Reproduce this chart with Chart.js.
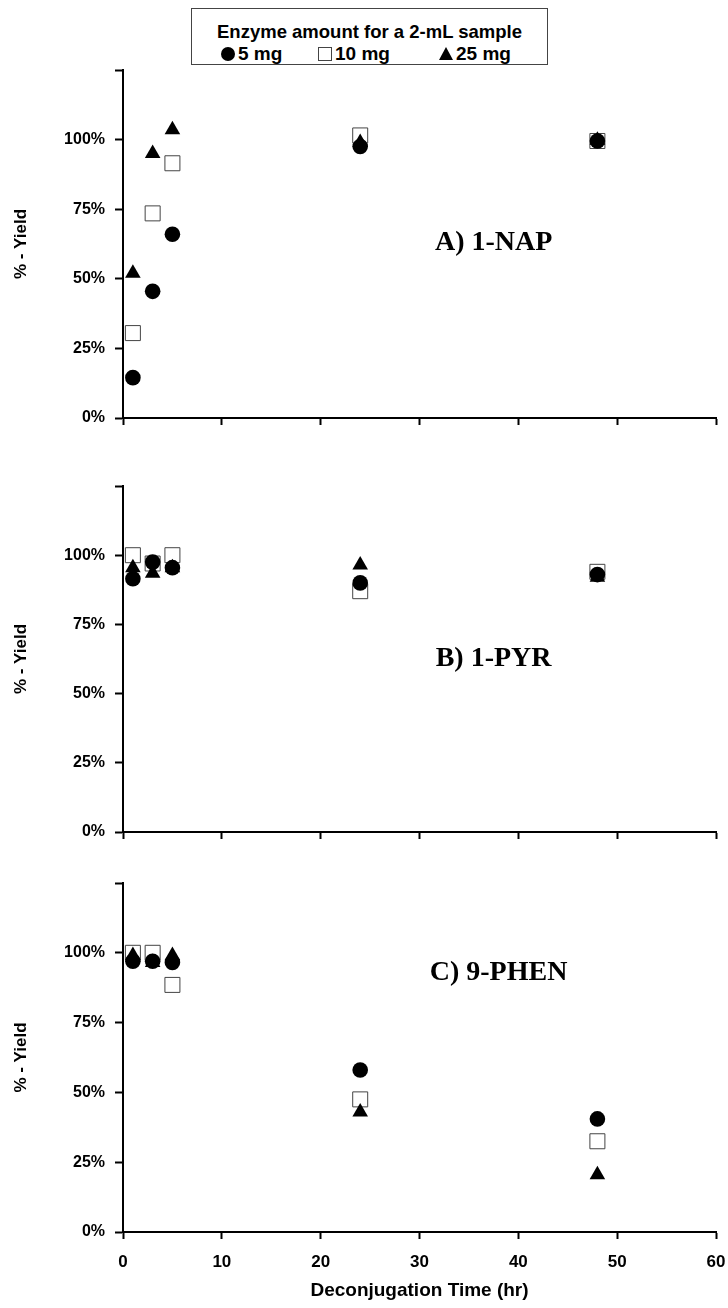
<!DOCTYPE html>
<html>
<head>
<meta charset="utf-8">
<script src="https://cdn.jsdelivr.net/npm/chart.js@4.4.1/dist/chart.umd.min.js"></script>
<style>
  html, body { margin: 0; padding: 0; background: #fff; }
  #wrap { position: relative; width: 728px; height: 1308px; overflow: hidden; }
  #wrap canvas { position: absolute; left: 0; }
  #legend {
    position: absolute; left: 191px; top: 8px; width: 357px; height: 57px;
    box-sizing: border-box; border: 1px solid #444; background: #fff;
    font-family: "Liberation Sans", Arial, sans-serif; font-weight: bold; color: #000;
  }
  #legend .ttl { position: absolute; left: 0; right: 0; top: 12px; text-align: center; font-size: 18.5px; line-height: 21px; }
  #legend .it { position: absolute; top: 34px; font-size: 19px; line-height: 21px; white-space: nowrap; }
  #legend .sym { display: inline-block; vertical-align: middle; margin-right: 3px; position: relative; top: -1px; }
  .dot { width: 14px; height: 14px; border-radius: 50%; background: #000; }
  .box { width: 12px; height: 12px; border: 1px solid #444; background: #fff; }
  .tri { width: 0; height: 0; border-left: 7px solid transparent; border-right: 7px solid transparent; border-bottom: 13px solid #000; }
</style>
</head>
<body>
<div id="wrap">
  <div id="legend">
    <div class="ttl">Enzyme amount for a 2-mL sample</div>
    <div class="it" style="left:29px"><span class="sym dot"></span>5 mg</div>
    <div class="it" style="left:126px"><span class="sym box"></span>10 mg</div>
    <div class="it" style="left:247px"><span class="sym tri"></span>25 mg</div>
  </div>
  <canvas id="cA" width="728" height="440" style="top:0px"></canvas>
  <canvas id="cB" width="728" height="420" style="top:440px"></canvas>
  <canvas id="cC" width="728" height="448" style="top:860px"></canvas>
</div>
<script>
// Sampling times (hr)
const hours = [1, 3, 5, 24, 48];

// % yield, A) 1-NAP
const napMg5  = [14.5, 45.5, 66.0, 97.5, 99.5];
const napMg10 = [30.5, 73.5, 91.5, 101.5, 99.5];
const napMg25 = [52.0, 95.0, 103.5, 99.0, 99.8];

// % yield, B) 1-PYR
const pyrMg5  = [91.5, 97.5, 95.5, 90.0, 93.0];
const pyrMg10 = [100.0, 97.0, 100.0, 87.0, 94.0];
const pyrMg25 = [95.5, 93.5, 95.5, 96.5, 92.0];

// % yield, C) 9-PHEN
const phenMg5  = [97.0, 97.0, 96.5, 58.0, 40.5];
const phenMg10 = [100.0, 100.0, 88.5, 47.5, 32.5];
const phenMg25 = [99.0, 96.5, 99.0, 43.0, 20.5];

// Axis ticks
const xTicks = [0, 10, 20, 30, 40, 50, 60];
const yTicks = [0, 25, 50, 75, 100, 125];
const yTickLabels = ['0%', '25%', '50%', '75%', '100%', ''];

const FONT_SANS = '"Liberation Sans", Arial, sans-serif';

const pairs = (ys) => hours.map((h, i) => ({ x: h, y: ys[i] }));

// Draws the compound name inside each panel
const panelText = {
  id: 'panelText',
  afterDatasetsDraw(chart, args, opts) {
    const { ctx, scales: { x, y } } = chart;
    ctx.save();
    ctx.font = 'bold 28px "Liberation Serif", "Times New Roman", serif';
    ctx.fillStyle = '#000';
    ctx.textAlign = 'center';
    ctx.textBaseline = 'middle';
    ctx.fillText(opts.text, x.getPixelForValue(opts.at[0]), y.getPixelForValue(opts.at[1]));
    ctx.restore();
  }
};

function makePanel(id, padTop, xHeight, showX, s5, s10, s25, name, at) {
  return new Chart(document.getElementById(id), {
    type: 'scatter',
    data: {
      datasets: [
        { label: '5 mg', data: pairs(s5), pointStyle: 'circle', pointRadius: 7.8,
          backgroundColor: '#000', borderColor: '#000', borderWidth: 0, order: 1 },
        { label: '25 mg', data: pairs(s25), pointStyle: 'triangle', pointRadius: 9,
          backgroundColor: '#000', borderColor: '#000', borderWidth: 0, order: 2 },
        { label: '10 mg', data: pairs(s10), pointStyle: 'rect', pointRadius: 10.6,
          backgroundColor: '#fff', borderColor: '#444', borderWidth: 1, order: 3 }
      ]
    },
    options: {
      responsive: false,
      animation: false,
      events: [],
      layout: { padding: { top: padTop, left: 0, right: 12, bottom: 0 } },
      plugins: {
        legend: { display: false },
        tooltip: { enabled: false },
        panelText: { text: name, at: at }
      },
      scales: {
        x: {
          type: 'linear', min: 0, max: 60,
          afterBuildTicks: (s) => { s.ticks = xTicks.map(v => ({ value: v })); },
          afterFit: (s) => { s.height = xHeight; s.paddingLeft = 0; s.paddingRight = 0; },
          ticks: { display: showX, color: '#000', padding: 13, maxRotation: 0, autoSkip: false,
                   font: { family: FONT_SANS, size: 17, weight: 'bold' } },
          grid: { drawOnChartArea: false, drawTicks: true, tickLength: 7, tickWidth: 2, tickColor: '#000' },
          border: { display: true, color: '#000', width: 2 },
          title: { display: showX, text: 'Deconjugation Time (hr)', color: '#000',
                   padding: { top: 0, bottom: 6 },
                   font: { family: FONT_SANS, size: 19, weight: 'bold' } }
        },
        y: {
          type: 'linear', min: 0, max: 125,
          afterBuildTicks: (s) => { s.ticks = yTicks.map(v => ({ value: v })); },
          afterFit: (s) => { s.width = 123; s.paddingTop = 0; s.paddingBottom = 0; },
          ticks: { color: '#000', padding: 10,
                   callback: (v) => yTickLabels[yTicks.indexOf(v)],
                   font: { family: FONT_SANS, size: 16, weight: 'bold' } },
          grid: { drawOnChartArea: false, drawTicks: true, tickLength: 8, tickWidth: 2, tickColor: '#000' },
          border: { display: true, color: '#000', width: 2 },
          title: { display: true, text: '% - Yield', color: '#000',
                   padding: { top: 11, bottom: 0 },
                   font: { family: FONT_SANS, size: 17, weight: 'bold' } }
        }
      }
    },
    plugins: [panelText]
  });
}

makePanel('cA', 70, 22, false, napMg5, napMg10, napMg25, 'A) 1-NAP', [37.5, 63]);
makePanel('cB', 46, 28, false, pyrMg5, pyrMg10, pyrMg25, 'B) 1-PYR', [37.5, 62.5]);
makePanel('cC', 23, 76, true, phenMg5, phenMg10, phenMg25, 'C) 9-PHEN', [38, 93]);
</script>
</body>
</html>
